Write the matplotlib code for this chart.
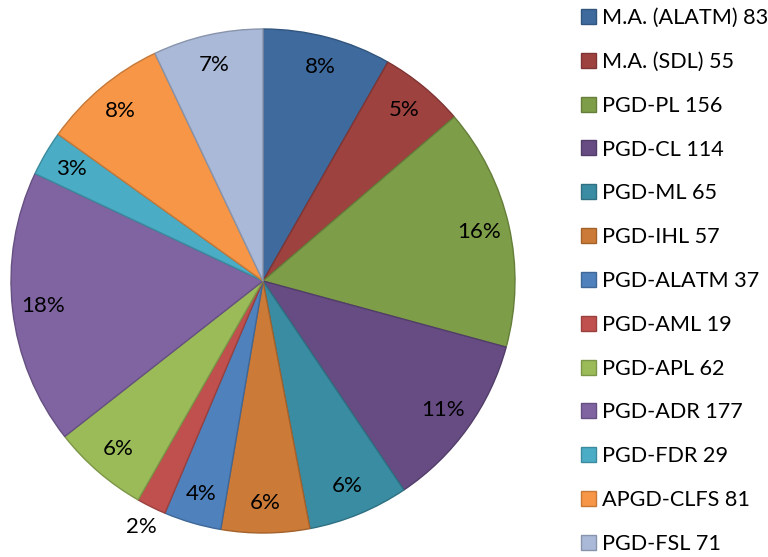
import matplotlib

matplotlib.use("Agg")
import matplotlib.pyplot as plt
import numpy as np
from matplotlib.colors import to_rgb

plt.rcParams["font.family"] = ["Lato", "DejaVu Sans"]

# Programme names and enrolment counts
programmes = [
    "M.A. (ALATM)", "M.A. (SDL)", "PGD-PL", "PGD-CL", "PGD-ML", "PGD-IHL",
    "PGD-ALATM", "PGD-AML", "PGD-APL", "PGD-ADR", "PGD-FDR", "APGD-CLFS", "PGD-FSL",
]
counts = [83, 55, 156, 114, 65, 57, 37, 19, 62, 177, 29, 81, 71]

# Office-style palette: dark shades, base accents, then a light tint
colors = [
    "#3F6A9E", "#9E4240", "#7E9D48", "#664C83", "#3A8CA2", "#CC7A37",
    "#4F81BD", "#C0504D", "#9BBB59", "#8064A2", "#4BACC6", "#F79646",
    "#AAB9D7",
]
edge_colors = [tuple(c * 0.8 for c in to_rgb(col)) for col in colors]

fig = plt.figure(figsize=(7.68, 5.57), dpi=100)
ax = fig.add_axes([11 / 768, 24 / 557, 504 / 768, 504 / 557])

wedges, texts, autotexts = ax.pie(
    counts,
    colors=colors,
    startangle=90,
    counterclock=False,
    radius=1.0,
    autopct=lambda p: f"{p:.0f}%",
    pctdistance=0.88,
    wedgeprops=dict(linewidth=1.0),
    textprops=dict(fontsize=16, color="black"),
)
for w, ec in zip(wedges, edge_colors):
    w.set_edgecolor(ec)

# the tiny slice gets its label outside the pie
small = int(np.argmin(counts))
w = wedges[small]
mid = np.deg2rad((w.theta1 + w.theta2) / 2)
autotexts[small].set_position((1.09 * np.cos(mid), 1.09 * np.sin(mid)))

ax.set_xlim(-1, 1)
ax.set_ylim(-1, 1)
ax.set_aspect("equal")
ax.axis("off")

labels = [f"{p} {c}" for p, c in zip(programmes, counts)]
fig.legend(
    wedges,
    labels,
    loc="upper left",
    bbox_to_anchor=(581 / 768, 1 - 8 / 557),
    frameon=False,
    fontsize=15.6,
    handlelength=0.68,
    handleheight=0.68,
    handletextpad=0.3,
    labelspacing=1.1,
    borderpad=0.0,
    borderaxespad=0.0,
)

fig.savefig("out.png", dpi=100, facecolor="white")
